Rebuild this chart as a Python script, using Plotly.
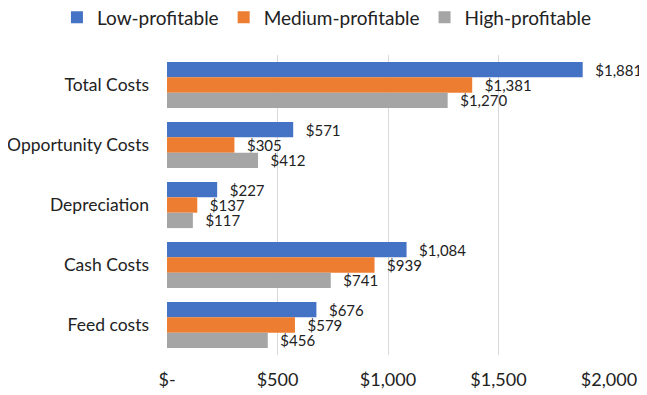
import plotly.graph_objects as go

categories = ["Total Costs", "Opportunity Costs", "Depreciation", "Cash Costs", "Feed costs"]
series_names = ["Low-profitable", "Medium-profitable", "High-profitable"]
low = [1881, 571, 227, 1084, 676]
medium = [1381, 305, 137, 939, 579]
high = [1270, 412, 117, 741, 456]
colors = ["#4472C4", "#ED7D31", "#A5A5A5"]
tick_vals = [0, 500, 1000, 1500, 2000]
tick_text = ["$-", "$500", "$1,000", "$1,500", "$2,000"]

PAD = "\u00a0\u00a0\u2009"  # visual gap between bar end and its value label

fig = go.Figure()
for name, vals, col in zip(series_names, [low, medium, high], colors):
    fig.add_trace(go.Bar(
        y=categories, x=vals, name=name, orientation="h",
        marker=dict(color=col, line=dict(width=0)),
        text=[f"{PAD}${v:,}" for v in vals], textposition="outside",
        constraintext="none",
        textfont=dict(size=15, color="#222222"), cliponaxis=False,
    ))

fig.update_layout(
    width=647, height=395,
    barmode="group", bargap=0.23, bargroupgap=0,
    margin=dict(l=159, r=46, t=47, b=48, autoexpand=False),
    paper_bgcolor="white", plot_bgcolor="white",
    font=dict(family="Lato, Carlito, sans-serif", size=17.5, color="#222222"),
    legend=dict(orientation="h", x=-0.249, xanchor="left", xref="paper",
                y=1.125, yref="paper", yanchor="middle",
                font=dict(size=19), traceorder="normal", itemwidth=30),
    xaxis=dict(range=[0, 2000], tickvals=tick_vals, ticktext=tick_text,
               showgrid=True, gridcolor="#D9D9D9", gridwidth=1, zeroline=False,
               showline=False, ticks="", tickfont=dict(size=18), automargin=False,
               ticklabelstandoff=12),
    yaxis=dict(autorange="reversed", showgrid=False, showline=False, ticks="",
               ticklabelstandoff=17, tickfont=dict(size=17.5), automargin=False),
)
fig.write_html("out.html")
